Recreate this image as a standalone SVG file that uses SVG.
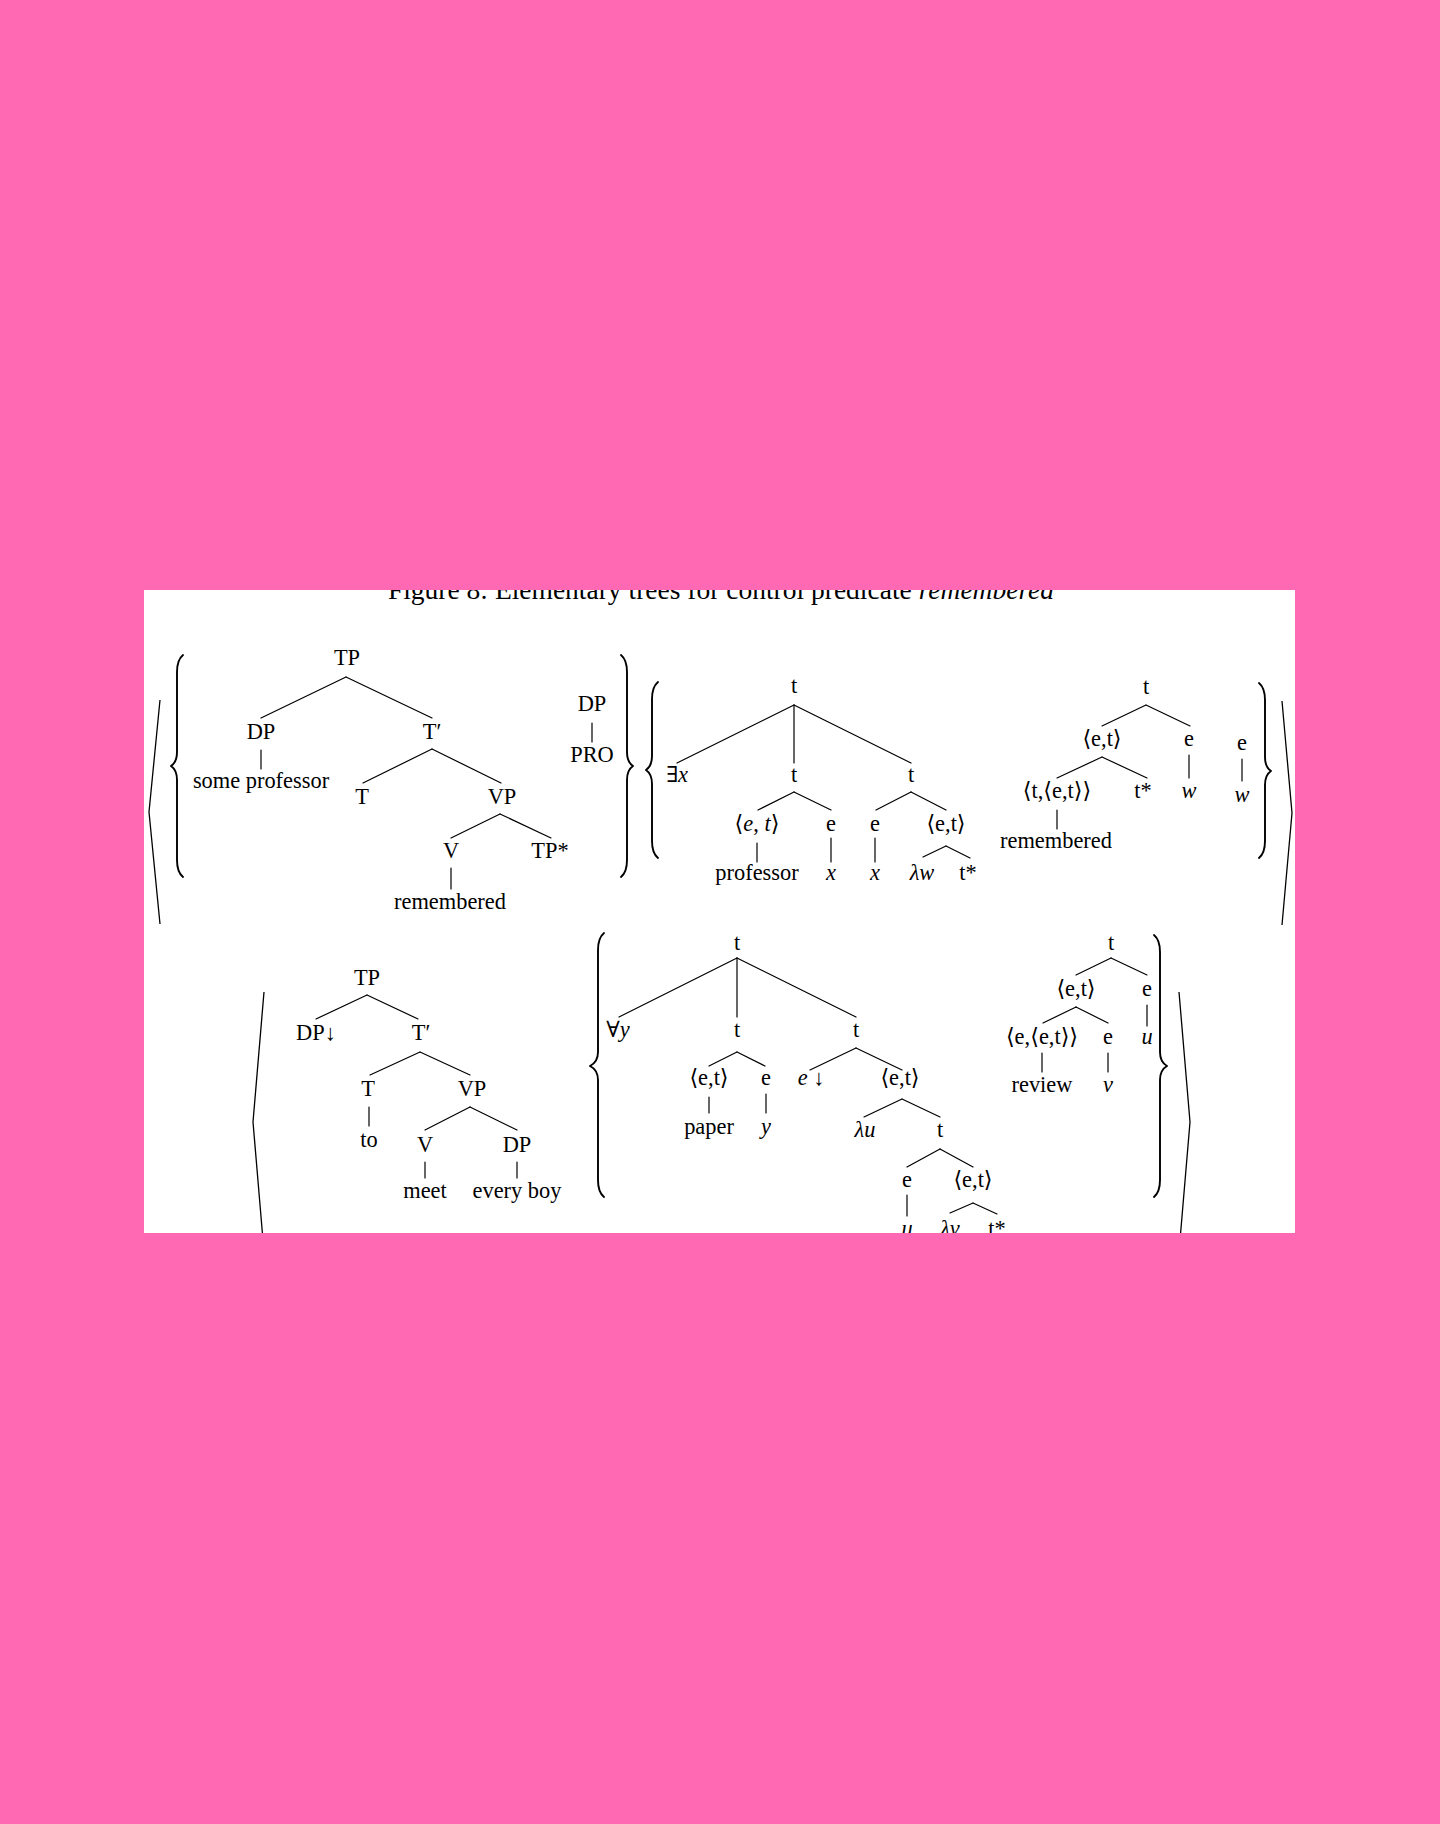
<svg xmlns="http://www.w3.org/2000/svg" width="1440" height="1824" viewBox="0 0 1440 1824">
<defs>
<style>
.lbl{font-family:"Liberation Serif","DejaVu Serif",serif;font-size:22.4px;fill:#000;text-anchor:middle}
.it{font-style:italic}
.cap{font-family:"Liberation Serif","DejaVu Serif",serif;font-size:27.5px;fill:#000;text-anchor:middle}
.edge{stroke:#000;stroke-width:1.2;fill:none;stroke-linecap:round}
.brace{stroke:#000;stroke-width:1.9;fill:none;stroke-linejoin:round;stroke-linecap:round}
.ang{stroke:#000;stroke-width:1.3;fill:none}
</style>
<clipPath id="page"><rect x="144" y="590" width="1151" height="643"/></clipPath>
</defs>
<rect x="0" y="0" width="1440" height="1824" fill="#ff69b4"/>
<rect x="144" y="590" width="1151" height="643" fill="#ffffff"/>
<g clip-path="url(#page)">
<text id="caption" class="cap" x="721" y="599">Figure 8: Elementary trees for control predicate <tspan class="it">remembered</tspan></text>

<g id="brackets">
<path class="ang" d="M160 700 L149 812 L160 924"/>
<path class="ang" d="M1282 701 L1292 813 L1282 925"/>
<path class="ang" d="M264 992 L253 1122 L264 1252"/>
<path class="ang" d="M1179 992 L1190 1122 L1179 1252"/>
<path class="brace" d="M183 655 Q177 660 177 672 L177 752 Q177 762 171 766 Q177 770 177 780 L177 860 Q177 872 183 877"/>
<path class="brace" d="M621 655 Q627 660 627 672 L627 752 Q627 762 633 766 Q627 770 627 780 L627 860 Q627 872 621 877"/>
<path class="brace" d="M658 682 Q652 687 652 699 L652 756 Q652 766 646 770 Q652 774 652 784 L652 841 Q652 853 658 858"/>
<path class="brace" d="M1259 683 Q1265 688 1265 700 L1265 757 Q1265 767 1271 771 Q1265 775 1265 785 L1265 841 Q1265 853 1259 858"/>
<path class="brace" d="M604 933 Q598 938 598 950 L598 1052 Q598 1062 590 1066 Q598 1070 598 1080 L598 1180 Q598 1192 604 1197"/>
<path class="brace" d="M1154 935 Q1160 940 1160 952 L1160 1052 Q1160 1062 1167 1066 Q1160 1070 1160 1080 L1160 1180 Q1160 1192 1154 1197"/>
</g>

<g id="connectors">
<line class="edge" x1="346" y1="677" x2="261" y2="718"/>
<line class="edge" x1="346" y1="677" x2="432" y2="718"/>
<line class="edge" x1="261" y1="750" x2="261" y2="769"/>
<line class="edge" x1="432" y1="749" x2="363" y2="783"/>
<line class="edge" x1="432" y1="749" x2="501" y2="783"/>
<line class="edge" x1="500" y1="814" x2="451" y2="838"/>
<line class="edge" x1="500" y1="814" x2="551" y2="838"/>
<line class="edge" x1="451" y1="868" x2="451" y2="889"/>
<line class="edge" x1="592" y1="723" x2="592" y2="742"/>

<line class="edge" x1="794" y1="705" x2="677" y2="763"/>
<line class="edge" x1="794" y1="705" x2="794" y2="763"/>
<line class="edge" x1="794" y1="705" x2="911" y2="763"/>
<line class="edge" x1="794" y1="792" x2="758" y2="810"/>
<line class="edge" x1="794" y1="792" x2="831" y2="810"/>
<line class="edge" x1="911" y1="792" x2="876" y2="810"/>
<line class="edge" x1="911" y1="792" x2="946" y2="810"/>
<line class="edge" x1="757" y1="843" x2="757" y2="862"/>
<line class="edge" x1="831" y1="838" x2="831" y2="862"/>
<line class="edge" x1="875" y1="838" x2="875" y2="862"/>
<line class="edge" x1="946" y1="846" x2="923" y2="857"/>
<line class="edge" x1="946" y1="846" x2="970" y2="858"/>

<line class="edge" x1="1146" y1="705" x2="1102" y2="726"/>
<line class="edge" x1="1146" y1="705" x2="1190" y2="726"/>
<line class="edge" x1="1102" y1="757" x2="1057" y2="778"/>
<line class="edge" x1="1102" y1="757" x2="1147" y2="778"/>
<line class="edge" x1="1189" y1="755" x2="1189" y2="778"/>
<line class="edge" x1="1057" y1="810" x2="1057" y2="829"/>
<line class="edge" x1="1242" y1="759" x2="1242" y2="781"/>

<line class="edge" x1="367" y1="995" x2="316" y2="1019"/>
<line class="edge" x1="367" y1="995" x2="418" y2="1019"/>
<line class="edge" x1="420" y1="1052" x2="370" y2="1075"/>
<line class="edge" x1="420" y1="1052" x2="470" y2="1075"/>
<line class="edge" x1="369" y1="1107" x2="369" y2="1126"/>
<line class="edge" x1="470" y1="1107" x2="425" y2="1130"/>
<line class="edge" x1="470" y1="1107" x2="517" y2="1130"/>
<line class="edge" x1="425" y1="1162" x2="425" y2="1178"/>
<line class="edge" x1="517" y1="1162" x2="517" y2="1178"/>

<line class="edge" x1="737" y1="958" x2="619" y2="1017"/>
<line class="edge" x1="737" y1="958" x2="737" y2="1017"/>
<line class="edge" x1="737" y1="958" x2="856" y2="1017"/>
<line class="edge" x1="737" y1="1052" x2="709" y2="1066"/>
<line class="edge" x1="737" y1="1052" x2="765" y2="1066"/>
<line class="edge" x1="856" y1="1048" x2="810" y2="1070"/>
<line class="edge" x1="856" y1="1048" x2="902" y2="1070"/>
<line class="edge" x1="709" y1="1097" x2="709" y2="1113"/>
<line class="edge" x1="766" y1="1094" x2="766" y2="1113"/>
<line class="edge" x1="902" y1="1099" x2="864" y2="1117"/>
<line class="edge" x1="902" y1="1099" x2="940" y2="1117"/>
<line class="edge" x1="940" y1="1149" x2="907" y2="1167"/>
<line class="edge" x1="940" y1="1149" x2="973" y2="1167"/>
<line class="edge" x1="907" y1="1195" x2="907" y2="1216"/>
<line class="edge" x1="973" y1="1203" x2="950" y2="1213"/>
<line class="edge" x1="973" y1="1203" x2="997" y2="1214"/>

<line class="edge" x1="1111" y1="958" x2="1076" y2="975"/>
<line class="edge" x1="1111" y1="958" x2="1147" y2="975"/>
<line class="edge" x1="1076" y1="1007" x2="1043" y2="1023"/>
<line class="edge" x1="1076" y1="1007" x2="1108" y2="1023"/>
<line class="edge" x1="1147" y1="1005" x2="1147" y2="1026"/>
<line class="edge" x1="1042" y1="1053" x2="1042" y2="1072"/>
<line class="edge" x1="1108" y1="1053" x2="1108" y2="1072"/>
</g>

<g id="a_TP"><text class="lbl" x="347" y="665">TP</text></g>
<g id="a_DP"><text class="lbl" x="261" y="739">DP</text></g>
<g id="a_some"><text class="lbl" x="261" y="788">some professor</text></g>
<g id="a_Tbar"><text class="lbl" x="432" y="739">T′</text></g>
<g id="a_T"><text class="lbl" x="362" y="804">T</text></g>
<g id="a_VP"><text class="lbl" x="502" y="804">VP</text></g>
<g id="a_V"><text class="lbl" x="451" y="858">V</text></g>
<g id="a_TPstar"><text class="lbl" x="550" y="858">TP*</text></g>
<g id="a_rem"><text class="lbl" x="450" y="909">remembered</text></g>
<g id="a_DP2"><text class="lbl" x="592" y="711">DP</text></g>
<g id="a_PRO"><text class="lbl" x="592" y="762">PRO</text></g>

<g id="b_t"><text class="lbl" x="794" y="693">t</text></g>
<g id="b_ex"><text class="lbl" x="677" y="782">∃<tspan class="it">x</tspan></text></g>
<g id="b_t2"><text class="lbl" x="794" y="782">t</text></g>
<g id="b_t3"><text class="lbl" x="911" y="782">t</text></g>
<g id="b_et1"><text class="lbl" x="757" y="831">⟨<tspan class="it">e</tspan>, <tspan class="it">t</tspan>⟩</text></g>
<g id="b_e1"><text class="lbl" x="831" y="831">e</text></g>
<g id="b_e2"><text class="lbl" x="875" y="831">e</text></g>
<g id="b_et2"><text class="lbl" x="946" y="831">⟨e,t⟩</text></g>
<g id="b_prof"><text class="lbl" x="757" y="880">professor</text></g>
<g id="b_x1"><text class="lbl it" x="831" y="880">x</text></g>
<g id="b_x2"><text class="lbl it" x="875" y="880">x</text></g>
<g id="b_lw"><text class="lbl it" x="922" y="880">λw</text></g>
<g id="b_ts"><text class="lbl" x="968" y="880">t*</text></g>

<g id="c_t"><text class="lbl" x="1146" y="694">t</text></g>
<g id="c_et"><text class="lbl" x="1102" y="746">⟨e,t⟩</text></g>
<g id="c_e"><text class="lbl" x="1189" y="746">e</text></g>
<g id="c_tet"><text class="lbl" x="1057" y="798">⟨t,⟨e,t⟩⟩</text></g>
<g id="c_ts"><text class="lbl" x="1143" y="798">t*</text></g>
<g id="c_w"><text class="lbl it" x="1189" y="798">w</text></g>
<g id="c_rem"><text class="lbl" x="1056" y="848">remembered</text></g>
<g id="c_e2"><text class="lbl" x="1242" y="750">e</text></g>
<g id="c_w2"><text class="lbl it" x="1242" y="802">w</text></g>

<g id="d_TP"><text class="lbl" x="367" y="985">TP</text></g>
<g id="d_DP"><text class="lbl" x="316" y="1040">DP↓</text></g>
<g id="d_Tbar"><text class="lbl" x="421" y="1040">T′</text></g>
<g id="d_T"><text class="lbl" x="368" y="1096">T</text></g>
<g id="d_VP"><text class="lbl" x="472" y="1096">VP</text></g>
<g id="d_to"><text class="lbl" x="369" y="1147">to</text></g>
<g id="d_V"><text class="lbl" x="425" y="1152">V</text></g>
<g id="d_DP2"><text class="lbl" x="517" y="1152">DP</text></g>
<g id="d_meet"><text class="lbl" x="425" y="1198">meet</text></g>
<g id="d_every"><text class="lbl" x="517" y="1198">every boy</text></g>

<g id="e_t"><text class="lbl" x="737" y="950">t</text></g>
<g id="e_ay"><text class="lbl" x="618" y="1037">∀<tspan class="it">y</tspan></text></g>
<g id="e_t2"><text class="lbl" x="737" y="1037">t</text></g>
<g id="e_t3"><text class="lbl" x="856" y="1037">t</text></g>
<g id="e_et1"><text class="lbl" x="709" y="1085">⟨e,t⟩</text></g>
<g id="e_e1"><text class="lbl" x="766" y="1085">e</text></g>
<g id="e_ed"><text class="lbl" x="811" y="1085"><tspan class="it">e</tspan> ↓</text></g>
<g id="e_et2"><text class="lbl" x="900" y="1085">⟨e,t⟩</text></g>
<g id="e_paper"><text class="lbl" x="709" y="1134">paper</text></g>
<g id="e_y"><text class="lbl it" x="766" y="1134">y</text></g>
<g id="e_lu"><text class="lbl it" x="865" y="1137">λu</text></g>
<g id="e_t4"><text class="lbl" x="940" y="1137">t</text></g>
<g id="e_e2"><text class="lbl" x="907" y="1187">e</text></g>
<g id="e_et3"><text class="lbl" x="973" y="1187">⟨e,t⟩</text></g>
<g id="e_u"><text class="lbl it" x="907" y="1236">u</text></g>
<g id="e_lv"><text class="lbl it" x="950" y="1236">λv</text></g>
<g id="e_ts"><text class="lbl" x="997" y="1236">t*</text></g>

<g id="f_t"><text class="lbl" x="1111" y="950">t</text></g>
<g id="f_et"><text class="lbl" x="1076" y="996">⟨e,t⟩</text></g>
<g id="f_e"><text class="lbl" x="1147" y="996">e</text></g>
<g id="f_eet"><text class="lbl" x="1042" y="1044">⟨e,⟨e,t⟩⟩</text></g>
<g id="f_e2"><text class="lbl" x="1108" y="1044">e</text></g>
<g id="f_u"><text class="lbl it" x="1147" y="1044">u</text></g>
<g id="f_review"><text class="lbl" x="1042" y="1092">review</text></g>
<g id="f_v"><text class="lbl it" x="1108" y="1092">v</text></g>
</g>
</svg>
